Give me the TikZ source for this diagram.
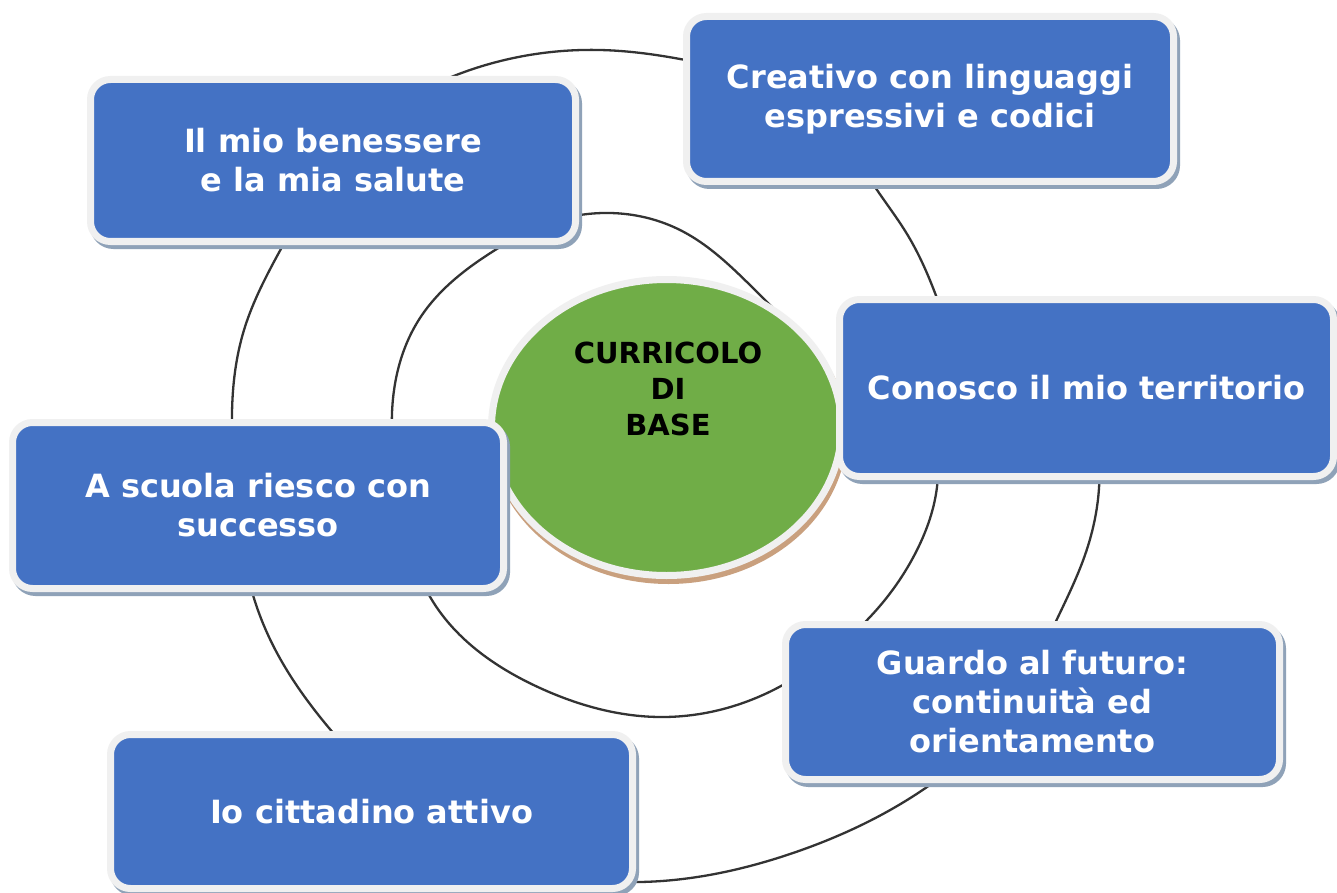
\documentclass[tikz,border=0pt]{standalone}
\usepackage{fontspec}
\setmainfont{DejaVu Sans}
\usetikzlibrary{shapes.geometric,hobby}
\definecolor{boxblue}{HTML}{4472C4}
\definecolor{coregreen}{HTML}{70AD47}
\definecolor{rim}{HTML}{F0F0F0}
\definecolor{boxshadow}{HTML}{8FA2B8}
\definecolor{coreshadow}{HTML}{C9A07E}
\definecolor{ringcol}{HTML}{333333}
\begin{document}
\begin{tikzpicture}[x=1pt,y=-1pt,
  ring/.style={draw=ringcol, line width=2.3pt},
  topic/.style={rectangle, rounded corners=20pt, draw=rim, line width=7pt, fill=boxblue,
    text=white, font=\bfseries\fontsize{32}{39}\selectfont, align=center, inner sep=0pt,
    preaction={draw=boxshadow, fill=boxshadow, line width=7pt,
      transform canvas={xshift=3pt,yshift=-4pt}}},
  core/.style={ellipse, draw=rim, line width=7pt, fill=coregreen, inner sep=0pt,
    preaction={draw=coreshadow, fill=coreshadow, line width=7pt,
      transform canvas={xshift=2pt,yshift=-5pt}}},
  coretext/.style={text=black, font=\bfseries\fontsize{29}{36}\selectfont, align=center, inner sep=0pt}
]
\useasboundingbox (0,0) rectangle (1337,893);
\fill[white] (0,0) rectangle (1337,893);

% outer ring
\draw[ring] plot[closed hobby] coordinates {
  (232,413) (244,330) (282,247) (360,135) (470,70) (600,50) (680,59) (770,85)
  (835,130) (875,187) (907,234) (935,293) (952,335) (1000,390) (1070,425)
  (1097,460) (1099,488) (1085,555) (1058,617) (1000,720) (927,787) (793,853)
  (640,882) (470,845) (329,728) (277,653) (253,595) (237,500)};

% inner ring
\draw[ring] plot[closed hobby] coordinates {
  (392,413) (420,318) (500,247) (540,226) (580,215) (680,230) (757,292)
  (800,345) (835,420) (900,445) (935,465) (937,487) (917,550) (870,617)
  (825,657) (781,686) (660,717) (540,688) (429,595) (400,500)};

% centre
\node[core, minimum width=350pt, minimum height=296pt] (core) at (666.5,427.5) {};
\node[coretext] (coreT) at (668,389) {CURRICOLO\\DI\\BASE};

% topics
\node[topic, minimum width=485pt, minimum height=162pt] (salute) at (333,160.5)
  {Il mio benessere\\e la mia salute};
\node[topic, minimum width=487pt, minimum height=165pt] (creativo) at (930,99)
  {Creativo con linguaggi\\espressivi e codici};
\node[topic, minimum width=494pt, minimum height=177pt] (territorio) at (1086.5,388)
  {Conosco il mio territorio};
\node[topic, minimum width=491pt, minimum height=166pt] (scuola) at (258,505.5)
  {A scuola riesco con\\successo};
\node[topic, minimum width=494pt, minimum height=155pt] (futuro) at (1032.5,702)
  {Guardo al futuro:\\continuità ed\\orientamento};
\node[topic, minimum width=522pt, minimum height=154pt] (cittadino) at (371.5,811.5)
  {Io cittadino attivo};
\end{tikzpicture}
\end{document}
